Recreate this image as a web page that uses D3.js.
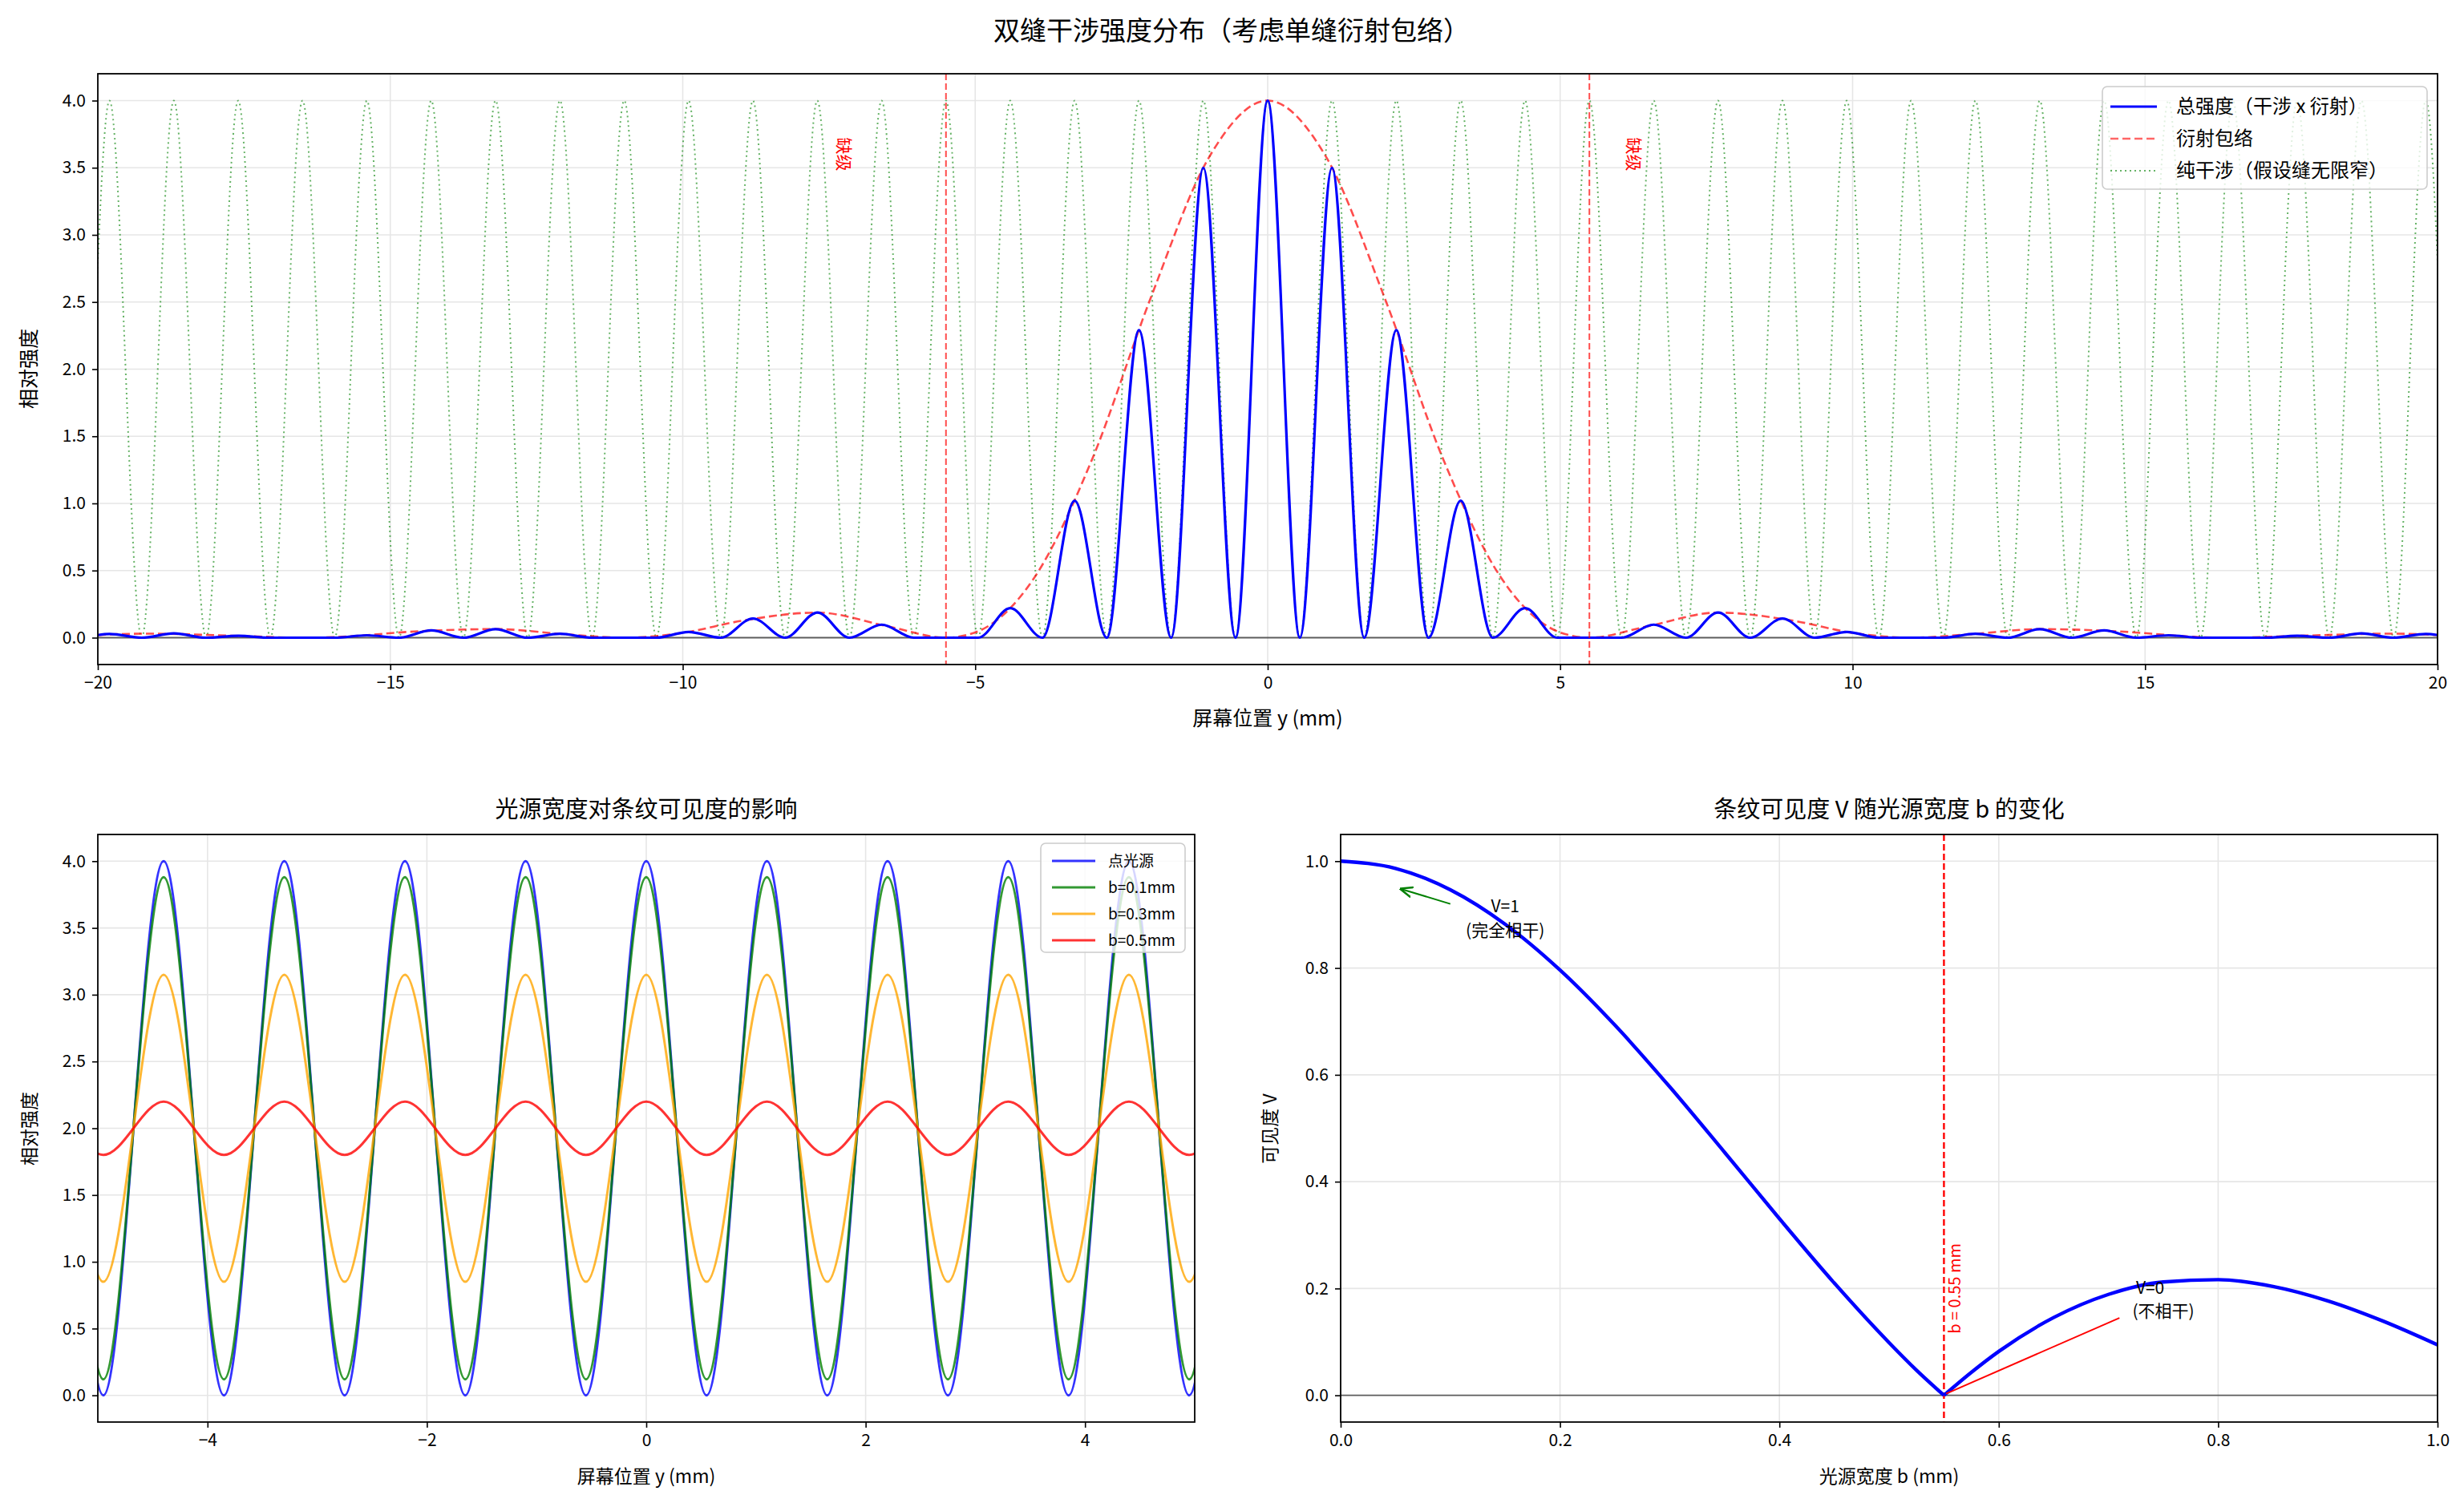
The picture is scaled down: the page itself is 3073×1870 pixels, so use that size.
<!DOCTYPE html>
<html><head><meta charset="utf-8">
<script src="https://cdn.jsdelivr.net/npm/d3@7"></script>
<style>body{margin:0;background:#fff}text{font-family:"Noto Sans CJK SC","DejaVu Sans",sans-serif}</style>
</head><body><svg id="c" width="3073" height="1870"></svg>
<script>
// ---- data ----
const fringePeriod = 1.1;
// total intensity peak values at y = k*1.1, k = 0..19 (symmetric)
const totalPeaks = [4.0,3.5,2.29,1.02,0.22,0,0.097,0.187,0.143,0.043,0,0.029,0.064,0.054,0.018,0,0.014,0.032,0.028,0.01];
const pureInterfPeak = 4.0;
const envY = [0,1,2,3,4,5,5.5,6.5,7.7,9,10,11,12,13.2,14.5,16,16.5,17.5,19.2,20];
const envV = [4,3.58,2.53,1.33,0.44,0.039,0,0.085,0.187,0.125,0.036,0,0.025,0.064,0.048,0.0035,0,0.012,0.03,0.02];
const missingOrder = 5.5;
const legendTop = ["总强度（干涉 x 衍射）","衍射包络","纯干涉（假设缝无限窄）"];
// bottom-left: fringes for different source widths (mean 2, max/min)
const srcLabels = ["点光源","b=0.1mm","b=0.3mm","b=0.5mm"];
const srcMax = [4.0,3.88,3.15,2.2];
const srcMin = [0.0,0.12,0.85,1.8];
const srcColors = ["#0000ff","#008000","#ffa500","#ff0000"];
// bottom-right: visibility vs b
const visB = [0,0.05,0.1,0.15,0.2,0.25,0.3,0.35,0.4,0.45,0.5,0.525,0.55,0.575,0.6,0.65,0.7,0.75,0.8,0.85,0.9,0.95,1.0];
const visV = [1,0.9865,0.9465,0.882,0.7962,0.6931,0.5776,0.455,0.3308,0.2103,0.0986,0.047,0,0.043,0.0822,0.1456,0.189,0.2123,0.2166,0.2039,0.1769,0.1393,0.0946];
const bCrit = 0.55;
const topTicksX = [-20,-15,-10,-5,0,5,10,15,20];

const svg = d3.select("#c");
const FS = 21;
svg.append("text").attr("x",1536).attr("y",50).attr("text-anchor","middle").attr("font-size",33).text("双缝干涉强度分布（考虑单缝衍射包络）");
svg.append("defs").html(`<marker id="ag" viewBox="0 0 10 10" refX="9" refY="5" markerWidth="8" markerHeight="8" orient="auto-start-reverse"><path d="M0,1 L10,5 L0,9" fill="none" stroke="green" stroke-width="1.5"/></marker>`);

function panel(id, L,R,T,B, xd, yd, xticks, yticks, xfmt, yfmt){
  const x = d3.scaleLinear().domain(xd).range([L,R]);
  const y = d3.scaleLinear().domain(yd).range([B,T]);
  const g = svg.append("g");
  g.append("clipPath").attr("id",id).append("rect").attr("x",L).attr("y",T).attr("width",R-L).attr("height",B-T);
  g.selectAll(null).data(xticks).join("line").attr("x1",d=>x(d)).attr("x2",d=>x(d)).attr("y1",T).attr("y2",B).attr("stroke","#e6e6e6").attr("stroke-width",1.6);
  g.selectAll(null).data(yticks).join("line").attr("y1",d=>y(d)).attr("y2",d=>y(d)).attr("x1",L).attr("x2",R).attr("stroke","#e6e6e6").attr("stroke-width",1.6);
  const ax = g.append("g").attr("transform",`translate(0,${B})`).call(d3.axisBottom(x).tickValues(xticks).tickFormat(xfmt).tickSize(7).tickPadding(8));
  const ay = g.append("g").attr("transform",`translate(${L},0)`).call(d3.axisLeft(y).tickValues(yticks).tickFormat(yfmt).tickSize(7).tickPadding(8));
  [ax,ay].forEach(a=>{a.selectAll("text").attr("font-size",FS).attr("fill","#000");a.select(".domain").remove();a.selectAll("line").attr("stroke-width",1.6);});
  const plot = g.append("g").attr("clip-path",`url(#${id})`);
  const frame = ()=>g.append("rect").attr("x",L).attr("y",T).attr("width",R-L).attr("height",B-T).attr("fill","none").attr("stroke","#000").attr("stroke-width",1.8);
  return {x,y,g,plot,frame};
}
const f1 = d=>d.toFixed(1);
const fInt = d=>d<0?"−"+(-d):""+d;

// ---------- top ----------
{
  const p = panel("c1",122,3040,92,829,[-20,20],[-0.2,4.2],topTicksX,d3.range(0,4.01,0.5),fInt,f1);
  const {x,y,plot} = p;
  const line = d3.line().x(d=>x(d[0])).y(d=>y(d[1])).curve(d3.curveMonotoneX);
  const tot=[], pure=[];
  for(let k=-19;k<=19;k++){
    tot.push([k*fringePeriod, totalPeaks[Math.abs(k)]]);
    pure.push([k*fringePeriod, pureInterfPeak]);
    if(k<19){tot.push([(k+0.5)*fringePeriod,0]);pure.push([(k+0.5)*fringePeriod,0]);}
  }
  plot.append("path").attr("d",line(pure)).attr("fill","none").attr("stroke","green").attr("stroke-opacity",0.6).attr("stroke-width",2).attr("stroke-dasharray","2,4");
  const env = envY.slice().reverse().map((v,i)=>[-v,envV[envY.length-1-i]]).concat(envY.slice(1).map((v,i)=>[v,envV[i+1]]));
  plot.append("path").attr("d",line(env)).attr("fill","none").attr("stroke","#ff0000").attr("stroke-opacity",0.7).attr("stroke-width",2.6).attr("stroke-dasharray","10,5");
  plot.append("line").attr("x1",x(-20)).attr("x2",x(20)).attr("y1",y(0)).attr("y2",y(0)).attr("stroke","#000").attr("stroke-opacity",0.6).attr("stroke-width",1.8);
  plot.append("path").attr("d",line(tot)).attr("fill","none").attr("stroke","#0000ff").attr("stroke-width",3.2);
  [-missingOrder,missingOrder].forEach(v=>plot.append("line").attr("x1",x(v)).attr("x2",x(v)).attr("y1",92).attr("y2",829).attr("stroke","red").attr("stroke-opacity",0.7).attr("stroke-width",2).attr("stroke-dasharray","8,4"));
  [[-7.35,3.6],[6.15,3.6]].forEach(d=>p.g.append("text").attr("transform",`translate(${x(d[0])},${y(d[1])}) rotate(90)`).attr("text-anchor","middle").attr("font-size",21).attr("fill","red").text("缺级"));
  p.frame();
  p.g.append("text").attr("x",1581).attr("y",905).attr("text-anchor","middle").attr("font-size",25).text("屏幕位置 y (mm)");
  p.g.append("text").attr("transform","translate(45,460) rotate(-90)").attr("text-anchor","middle").attr("font-size",25).text("相对强度");
  const lg = p.g.append("g").attr("transform","translate(2622,108)");
  lg.append("rect").attr("width",405).attr("height",128).attr("rx",6).attr("fill","#fff").attr("fill-opacity",0.8).attr("stroke","#ccc").attr("stroke-width",1.6);
  const st=[["#0000ff",1,"",3.2],["#ff0000",0.6,"10,5",2.6],["green",0.6,"2,4",2]];
  legendTop.forEach((t,i)=>{const yy=25+i*40;
    lg.append("line").attr("x1",10).attr("x2",68).attr("y1",yy).attr("y2",yy).attr("stroke",st[i][0]).attr("stroke-opacity",st[i][1]).attr("stroke-dasharray",st[i][2]).attr("stroke-width",st[i][3]);
    lg.append("text").attr("x",92).attr("y",yy+8).attr("font-size",24).text(t);});
}

// ---------- bottom-left ----------
{
  const p = panel("c2",122,1490,1041,1774,[-5,5],[-0.2,4.2],[-4,-2,0,2,4],d3.range(0,4.01,0.5),fInt,f1);
  const {x,y,plot} = p;
  const line = d3.line().x(d=>x(d[0])).y(d=>y(d[1])).curve(d3.curveCatmullRom.alpha(0));
  srcMax.forEach((mx,s)=>{
    const pts=[];
    for(let k=-6;k<=6;k++){pts.push([k*fringePeriod,mx]); if(k<6) pts.push([(k+0.5)*fringePeriod,srcMin[s]]);}
    plot.append("path").attr("d",line(pts)).attr("fill","none").attr("stroke",srcColors[s]).attr("stroke-opacity",0.8).attr("stroke-width",3);
  });
  p.frame();
  p.g.append("text").attr("x",806).attr("y",1020).attr("text-anchor","middle").attr("font-size",29).text("光源宽度对条纹可见度的影响");
  p.g.append("text").attr("x",806).attr("y",1850).attr("text-anchor","middle").attr("font-size",23).text("屏幕位置 y (mm)");
  p.g.append("text").attr("transform","translate(45,1408) rotate(-90)").attr("text-anchor","middle").attr("font-size",23).text("相对强度");
  const lg = p.g.append("g").attr("transform","translate(1298,1052)");
  lg.append("rect").attr("width",180).attr("height",136).attr("rx",6).attr("fill","#fff").attr("fill-opacity",0.8).attr("stroke","#ccc").attr("stroke-width",1.6);
  srcLabels.forEach((t,i)=>{const yy=22+i*33;
    lg.append("line").attr("x1",14).attr("x2",68).attr("y1",yy).attr("y2",yy).attr("stroke",srcColors[i]).attr("stroke-opacity",0.8).attr("stroke-width",3);
    lg.append("text").attr("x",84).attr("y",yy+7).attr("font-size",19).text(t);});
}

// ---------- bottom-right ----------
{
  const p = panel("c3",1672,3040,1041,1774,[0,1],[-0.05,1.05],d3.range(0,1.01,0.2),d3.range(0,1.01,0.2),f1,f1);
  const {x,y,plot} = p;
  plot.append("line").attr("x1",x(0)).attr("x2",x(1)).attr("y1",y(0)).attr("y2",y(0)).attr("stroke","#000").attr("stroke-opacity",0.6).attr("stroke-width",1.8);
  plot.append("line").attr("x1",x(bCrit)).attr("x2",x(bCrit)).attr("y1",1041).attr("y2",1774).attr("stroke","red").attr("stroke-width",2.4).attr("stroke-dasharray","8,4");
  const vp = visB.map((b,i)=>[b,visV[i]]);
  const vl = d3.line().x(d=>x(d[0])).y(d=>y(d[1])).curve(d3.curveMonotoneX);
  const path = vl(vp.filter(d=>d[0]<=bCrit)) + vl(vp.filter(d=>d[0]>=bCrit));
  plot.append("path").attr("d",path).attr("fill","none").attr("stroke","#0000ff").attr("stroke-width",4.4);
  p.g.append("text").attr("transform",`translate(${x(0.565)},${y(0.2)}) rotate(-90)`).attr("text-anchor","middle").attr("font-size",20).attr("fill","red").text("b = 0.55 mm");
  p.g.append("line").attr("x1",x(0.1)).attr("y1",y(0.92)).attr("x2",x(0.055)).attr("y2",y(0.948)).attr("stroke","green").attr("stroke-width",2).attr("marker-end","url(#ag)");
  p.g.append("text").attr("x",x(0.15)).attr("y",y(0.905)).attr("text-anchor","middle").attr("font-size",21).text("V=1");
  p.g.append("text").attr("x",x(0.15)).attr("y",y(0.86)).attr("text-anchor","middle").attr("font-size",21).text("(完全相干)");
  p.g.append("line").attr("x1",x(0.71)).attr("y1",y(0.145)).attr("x2",x(0.552)).attr("y2",y(0.003)).attr("stroke","red").attr("stroke-width",2);
  p.g.append("text").attr("x",x(0.738)).attr("y",y(0.19)).attr("text-anchor","middle").attr("font-size",21).text("V=0");
  p.g.append("text").attr("x",x(0.75)).attr("y",y(0.146)).attr("text-anchor","middle").attr("font-size",21).text("(不相干)");
  p.frame();
  p.g.append("text").attr("x",2356).attr("y",1020).attr("text-anchor","middle").attr("font-size",29).text("条纹可见度 V 随光源宽度 b 的变化");
  p.g.append("text").attr("x",2356).attr("y",1850).attr("text-anchor","middle").attr("font-size",23).text("光源宽度 b (mm)");
  p.g.append("text").attr("transform","translate(1592,1408) rotate(-90)").attr("text-anchor","middle").attr("font-size",23).text("可见度 V");
}
</script></body></html>
